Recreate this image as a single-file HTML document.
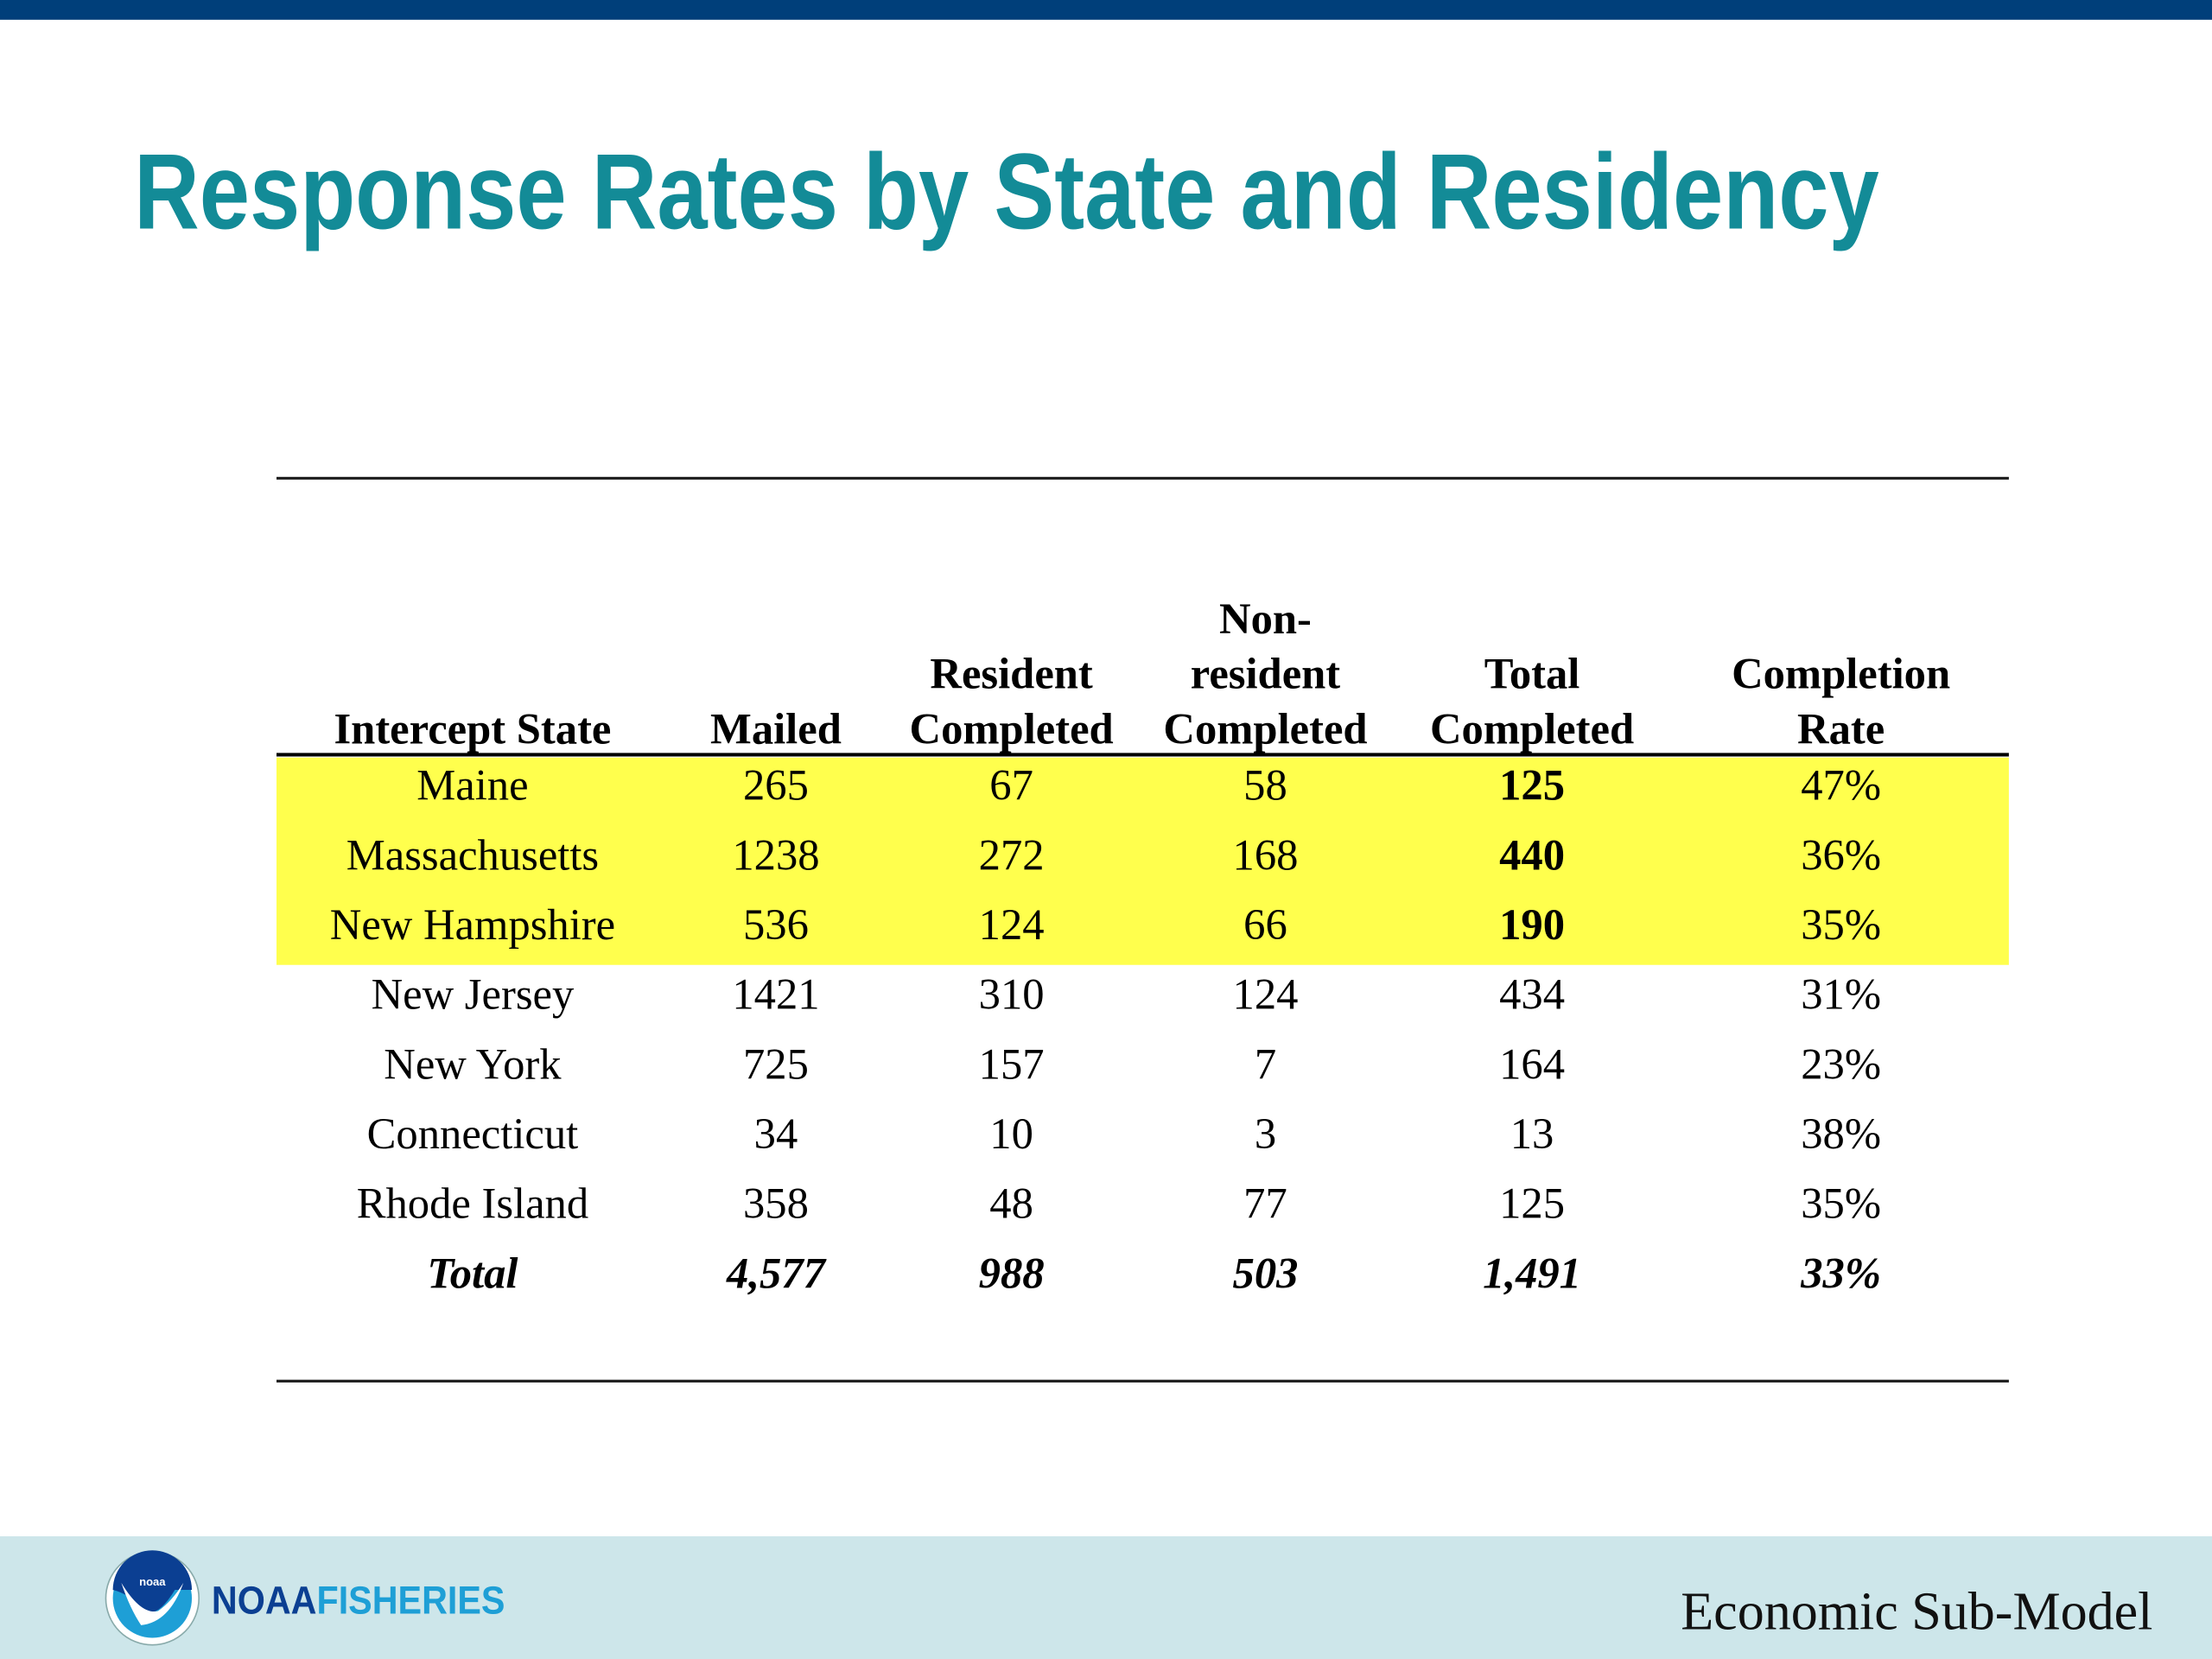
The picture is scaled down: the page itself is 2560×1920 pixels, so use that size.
<!DOCTYPE html>
<html><head><meta charset="utf-8"><style>
html,body{margin:0;padding:0;background:#fff}
svg{display:block}
</style></head><body>
<svg width="2560" height="1920" viewBox="0 0 1568 1176" xmlns="http://www.w3.org/2000/svg">
<rect x="0" y="0" width="1568" height="14" fill="#003f7a"/>
<text x="95" y="162" font-family="Liberation Sans, sans-serif" font-weight="bold" font-size="76" fill="#138b97" textLength="1237" lengthAdjust="spacingAndGlyphs">Response Rates by State and Residency</text>
<line x1="196" y1="339" x2="1424" y2="339" stroke="#222" stroke-width="2"/>
<rect x="196" y="537" width="1228" height="147" fill="#ffff4d"/>
<g id="hdr" font-family="Liberation Serif, serif" font-weight="bold" font-size="31" fill="#000" text-anchor="middle"></g>
<line x1="196" y1="535" x2="1424" y2="535" stroke="#000" stroke-width="2.5"/>
<g id="body" font-family="Liberation Serif, serif" font-size="31" fill="#000" text-anchor="middle"></g>
<line x1="196" y1="979" x2="1424" y2="979" stroke="#222" stroke-width="2"/>
<rect x="0" y="1089" width="1568" height="87" fill="#cde6ea"/>
<g>
<circle cx="108" cy="1133" r="33" fill="#fff" stroke="#8aa" stroke-width="1"/>
<circle cx="108" cy="1133" r="28" fill="#1e9fd6"/>
<path d="M80,1127 A28,28 0 0 1 136,1127 L124,1127 Q110,1150 100,1140 Q92,1130 80,1127 Z" fill="#0b3f92"/>
<path d="M86,1122 Q100,1145 112,1142 Q122,1135 130,1122 Q120,1150 100,1152 Q92,1140 86,1122 Z" fill="#fff"/>
<text x="108" y="1124" font-family="Liberation Sans, sans-serif" font-size="8" font-weight="bold" fill="#fff" text-anchor="middle">noaa</text>
</g>
<text x="150" y="1144" font-family="Liberation Sans, sans-serif" font-weight="bold" font-size="28" textLength="208" lengthAdjust="spacingAndGlyphs"><tspan fill="#0b3f92">NOAA</tspan><tspan fill="#1e9fd6">FISHERIES</tspan></text>
<text x="1526" y="1155" font-family="Liberation Serif, serif" font-size="38" fill="#111" text-anchor="end">Economic Sub-Model</text>
</svg>
<script>
const colX=[335,550,717,897,1086,1305];
const headers=[["","","Intercept State"],["","","Mailed"],["","Resident","Completed"],["Non-","resident","Completed"],["","Total","Completed"],["","Completion","Rate"]];
const states=["Maine","Massachusetts","New Hampshire","New Jersey","New York","Connecticut","Rhode Island"];
const mailed=["265","1238","536","1421","725","34","358"];
const resident=["67","272","124","310","157","10","48"];
const nonresident=["58","168","66","124","7","3","77"];
const totalCompleted=["125","440","190","434","164","13","125"];
const rate=["47%","36%","35%","31%","23%","38%","35%"];
const totals=["Total","4,577","988","503","1,491","33%"];
const NS="http://www.w3.org/2000/svg";
const hdr=document.getElementById('hdr');
const body=document.getElementById('body');
const hy=[449,488,527];
headers.forEach((h,c)=>{h.forEach((t,l)=>{if(!t)return;
const e=document.createElementNS(NS,'text');
e.setAttribute('x',colX[c]);e.setAttribute('y',hy[l]);e.textContent=t;


hdr.appendChild(e);});});
function cell(x,y,t,bold,ital,name){const e=document.createElementNS(NS,'text');
e.setAttribute('x',x);e.setAttribute('y',y);e.textContent=t;
if(bold)e.setAttribute('font-weight','bold');if(ital)e.setAttribute('font-style','italic');


body.appendChild(e);}
states.forEach((s,i)=>{const y=567+i*49.4;
const vals=[s,mailed[i],resident[i],nonresident[i],totalCompleted[i],rate[i]];
vals.forEach((v,c)=>cell(colX[c],y,v,c===4&&i<3,false,'cell-r'+i+'-c'+c));});
totals.forEach((v,c)=>cell(colX[c],567+7*49.4,v,true,true,'total-c'+c));
</script>
</body></html>
